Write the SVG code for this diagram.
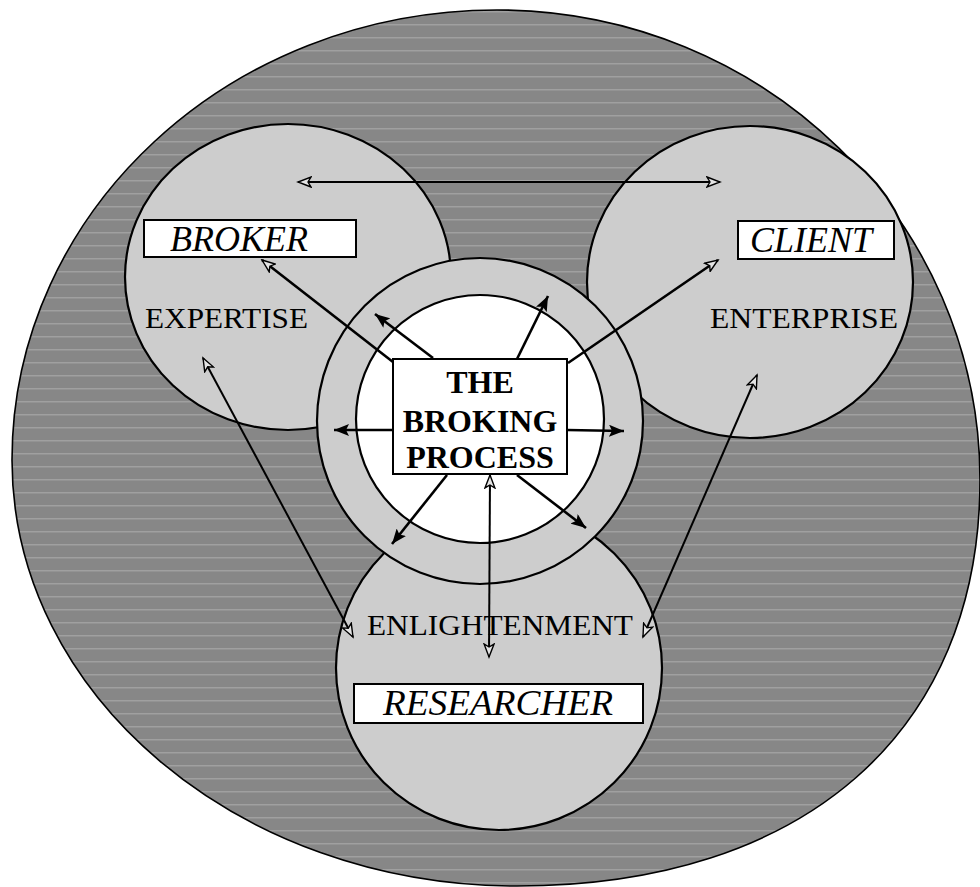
<svg xmlns="http://www.w3.org/2000/svg" width="980" height="887" viewBox="0 0 980 887">
<defs>
<style>
.ol{stroke:#000;stroke-width:2.2}
.lt{fill:#cdcdcd}
.box{fill:#fff;stroke:#000;stroke-width:2}
.t{font-family:"Liberation Serif","Times New Roman",serif;fill:#000}
.it{font-style:italic;font-size:36px}
.rg{font-size:30px}
.bd{font-weight:bold;font-size:32px;text-anchor:middle}
.a{stroke:#000;stroke-width:2.6;fill:none}
.b{stroke:#000;stroke-width:2;fill:none}
</style>
<pattern id="dark" width="8" height="13" patternUnits="userSpaceOnUse">
<rect width="8" height="13" fill="#878787"/>
<rect y="11" width="8" height="1.5" fill="#a0a0a0"/>
</pattern>
<marker id="fa" markerUnits="userSpaceOnUse" markerWidth="16" markerHeight="12" refX="15" refY="6" orient="auto-start-reverse">
<path d="M0,0 L15,6 L0,12 L3,6 z" fill="#000"/>
</marker>
<marker id="oa" markerUnits="userSpaceOnUse" markerWidth="16" markerHeight="12" refX="14" refY="6" orient="auto-start-reverse">
<path d="M1,1 L14,6 L1,11 L4,6 z" fill="#e4e4e4" stroke="#000" stroke-width="1.4"/>
</marker>
</defs>
<g id="background">
<path d="M497,10 C764,10 980,221 980,480 C980,732 804,886 517,886 C238,886 12,695 12,460 C12,212 229,10 497,10 Z" fill="url(#dark)" stroke="#000" stroke-width="1.6"/>
</g>
<g id="broker">
<ellipse cx="288" cy="277" rx="163" ry="153" class="lt ol"/>
<rect x="144" y="220" width="212" height="37" class="box"/>
<text x="170" y="251" class="t it">BROKER</text>
<text x="145" y="328" class="t rg" textLength="163" lengthAdjust="spacingAndGlyphs">EXPERTISE</text>
</g>
<g id="client">
<ellipse cx="750" cy="282" rx="163" ry="156" class="lt ol"/>
<rect x="738" y="221" width="156" height="38" class="box"/>
<text x="750" y="252" class="t it">CLIENT</text>
<text x="710" y="328" class="t rg" textLength="188" lengthAdjust="spacingAndGlyphs">ENTERPRISE</text>
</g>
<g id="researcher">
<ellipse cx="499" cy="668" rx="163" ry="162" class="lt ol"/>
<rect x="354" y="684" width="289" height="39" class="box"/>
<text x="383" y="715" class="t it" textLength="230" lengthAdjust="spacingAndGlyphs">RESEARCHER</text>
<text x="367" y="635" class="t rg" textLength="266" lengthAdjust="spacingAndGlyphs">ENLIGHTENMENT</text>
</g>
<g id="broking-process">
<circle cx="480" cy="421" r="163" class="lt ol"/>
<circle cx="480" cy="419" r="124" fill="#fff" class="ol"/>
<rect x="393" y="359" width="174" height="115" class="box"/>
<text x="480" y="393" class="t bd">THE</text>
<text x="480" y="432" class="t bd">BROKING</text>
<text x="480" y="468" class="t bd">PROCESS</text>
</g>
<g id="connectors">
<line x1="298" y1="182" x2="720" y2="182" class="b" marker-start="url(#oa)" marker-end="url(#oa)"/>
<line x1="393" y1="362" x2="262" y2="260" class="a" marker-end="url(#oa)"/>
<line x1="568" y1="363" x2="718" y2="260" class="a" marker-end="url(#oa)"/>
<line x1="433" y1="358" x2="375" y2="314" class="a" marker-end="url(#fa)"/>
<line x1="517" y1="359" x2="548" y2="296" class="a" marker-end="url(#fa)"/>
<line x1="393" y1="430" x2="334" y2="430" class="a" marker-end="url(#fa)"/>
<line x1="567" y1="430" x2="624" y2="431" class="a" marker-end="url(#fa)"/>
<line x1="447" y1="475" x2="392" y2="544" class="a" marker-end="url(#fa)"/>
<line x1="517" y1="475" x2="586" y2="528" class="a" marker-end="url(#fa)"/>
<line x1="490" y1="475" x2="489" y2="657" class="b" marker-start="url(#oa)" marker-end="url(#oa)"/>
<line x1="203" y1="358" x2="353" y2="637" class="b" marker-start="url(#oa)" marker-end="url(#oa)"/>
<line x1="757" y1="375" x2="643" y2="637" class="b" marker-start="url(#oa)" marker-end="url(#oa)"/>
</g>
</svg>
